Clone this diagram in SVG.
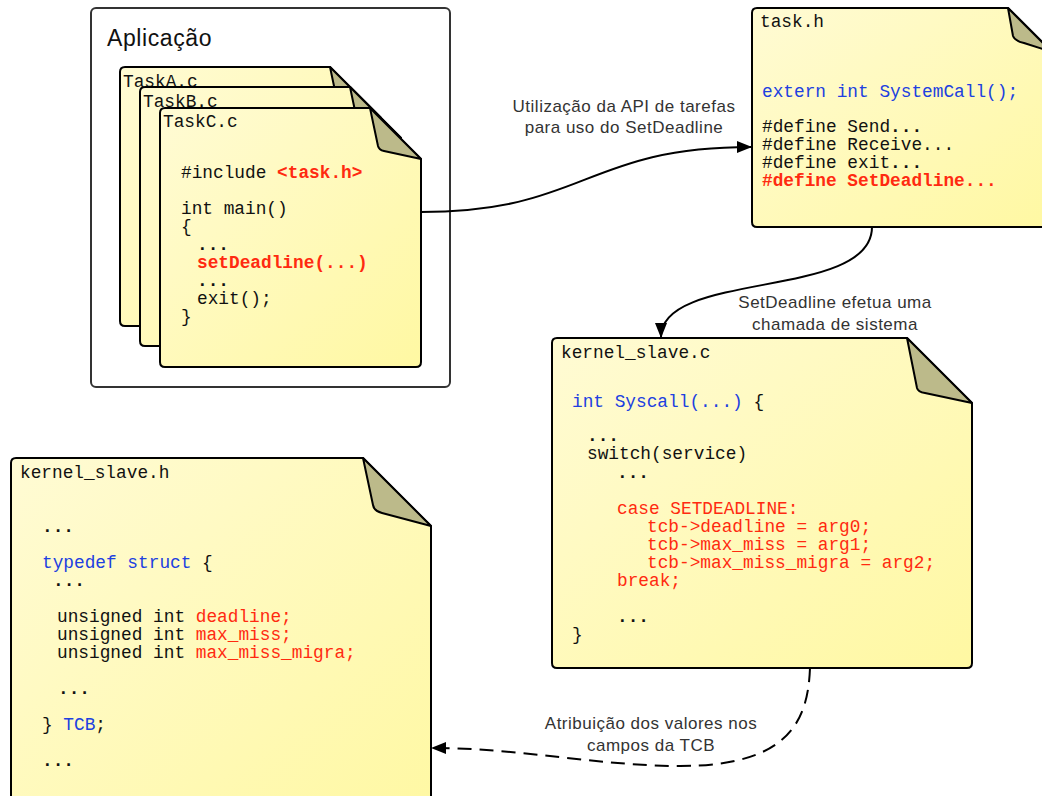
<svg xmlns="http://www.w3.org/2000/svg" width="1042" height="796" viewBox="0 0 1042 796">
  <defs>
    <linearGradient id="paper" x1="0" y1="0" x2="1" y2="1">
      <stop offset="0" stop-color="#fffbd4"/>
      <stop offset="1" stop-color="#fff8a2"/>
    </linearGradient>
    <marker id="arrow" markerUnits="userSpaceOnUse" markerWidth="16" markerHeight="12" viewBox="0 0 16 12" refX="14" refY="6" orient="auto">
      <path d="M0,0 L15,6 L0,12 Z" fill="#000"/>
    </marker>
    <style>
      .page { fill: url(#paper); stroke: #000; stroke-width: 2; stroke-linejoin: round; }
      .fold { fill: #bcba8a; stroke: #000; stroke-width: 2; stroke-linejoin: round; }
      .code { font-family: "Liberation Mono", "DejaVu Sans Mono", monospace; font-size: 17.8px; fill: #111; white-space: pre; }
      .kw { fill: #2040e0; }
      .hl { fill: #ff2a10; }
      .b { font-weight: bold; }
      .label { font-family: "Liberation Sans", Arial, sans-serif; font-size: 17px; letter-spacing: 0.5px; fill: #333; text-anchor: middle; }
      .edge { fill: none; stroke: #000; stroke-width: 2; }
      .dashed { stroke-dasharray: 14 8; }
    </style>
  </defs>

  <rect width="1042" height="796" fill="#fff"/>

  <!-- application container -->
  <g id="aplicacao">
    <rect x="91" y="8" width="359" height="379" rx="5" fill="#fff" stroke="#333" stroke-width="2"/>
    <text x="107" y="46" font-family="Liberation Sans, Arial, sans-serif" font-size="23" letter-spacing="0.6" fill="#111">Aplicação</text>
  </g>

  <!-- TaskA.c -->
  <g id="taskA">
    <path class="page" d="M125,67 H330 L381,118 V321 Q381,326 376,326 H125 Q120,326 120,321 V72 Q120,67 125,67 Z"/>
    <path class="fold" d="M330,67 L338,105 Q339,109 344,110 L381,118 Z"/>
    <text class="code" x="123" y="87">TaskA.c</text>
  </g>

  <!-- TaskB.c -->
  <g id="taskB">
    <path class="page" d="M145,87 H350 L401,138 V341 Q401,346 396,346 H145 Q140,346 140,341 V92 Q140,87 145,87 Z"/>
    <path class="fold" d="M350,87 L358,125 Q359,129 364,130 L401,138 Z"/>
    <text class="code" x="143" y="107">TaskB.c</text>
  </g>

  <!-- TaskC.c -->
  <g id="taskC">
    <path class="page" d="M165,108 H370 L421,159 V362 Q421,367 416,367 H165 Q160,367 160,362 V113 Q160,108 165,108 Z"/>
    <path class="fold" d="M370,108 L378,146 Q379,150 384,151 L421,159 Z"/>
    <text class="code" x="163" y="127">TaskC.c</text>
    <text class="code" x="181" y="178">#include <tspan class="hl b">&lt;task.h&gt;</tspan></text>
    <text class="code" x="181" y="214">int main()</text>
    <text class="code" x="181" y="232">{</text>
    <text class="code b" x="197" y="250">...</text>
    <text class="code hl b" x="197" y="268">setDeadline(...)</text>
    <text class="code b" x="197" y="286">...</text>
    <text class="code" x="197" y="304">exit();</text>
    <text class="code" x="181" y="322">}</text>
  </g>

  <!-- task.h -->
  <g id="task_h">
    <path class="page" d="M757,8 H1008 L1052,52 V222 Q1052,227 1047,227 H757 Q752,227 752,222 V13 Q752,8 757,8 Z"/>
    <path class="fold" d="M1008,8 L1013,36 Q1015,41 1024,43 L1052,52 Z"/>
    <text class="code" x="760" y="27">task.h</text>
    <text class="code kw" x="762" y="97">extern int SystemCall();</text>
    <text class="code" x="762" y="132">#define Send<tspan class="b">...</tspan></text>
    <text class="code" x="762" y="150">#define Receive...</text>
    <text class="code" x="762" y="168">#define exit<tspan class="b">...</tspan></text>
    <text class="code hl b" x="762" y="186">#define SetDeadline...</text>
  </g>

  <!-- kernel_slave.c -->
  <g id="kernel_slave_c">
    <path class="page" d="M557,338 H907 L972,403 V663 Q972,668 967,668 H557 Q552,668 552,663 V343 Q552,338 557,338 Z"/>
    <path class="fold" d="M907,338 L917,388 Q918,392 925,393 L972,403 Z"/>
    <text class="code" x="561" y="358">kernel_slave.c</text>
    <text class="code" x="572" y="407"><tspan class="kw">int Syscall(...)</tspan> {</text>
    <text class="code b" x="587" y="441">...</text>
    <text class="code" x="587" y="459">switch(service)</text>
    <text class="code b" x="617" y="478">...</text>
    <text class="code hl" x="617" y="514">case SETDEADLINE:</text>
    <text class="code hl" x="647" y="532">tcb-&gt;deadline = arg0;</text>
    <text class="code hl" x="647" y="550">tcb-&gt;max_miss = arg1;</text>
    <text class="code hl" x="647" y="568">tcb-&gt;max_miss_migra = arg2;</text>
    <text class="code hl" x="617" y="586">break;</text>
    <text class="code b" x="617" y="622">...</text>
    <text class="code" x="572" y="640">}</text>
  </g>

  <!-- kernel_slave.h -->
  <g id="kernel_slave_h">
    <path class="page" d="M16,458 H363 L431,526 V830 H11 V463 Q11,458 16,458 Z"/>
    <path class="fold" d="M363,458 L373,505 Q374,511 382,513 L431,526 Z"/>
    <text class="code" x="20" y="478">kernel_slave.h</text>
    <text class="code b" x="42" y="532">...</text>
    <text class="code" x="42" y="568"><tspan class="kw">typedef struct</tspan> {</text>
    <text class="code b" x="53" y="586">...</text>
    <text class="code" x="57" y="622">unsigned int <tspan class="hl">deadline;</tspan></text>
    <text class="code" x="57" y="640">unsigned int <tspan class="hl">max_miss;</tspan></text>
    <text class="code" x="57" y="658">unsigned int <tspan class="hl">max_miss_migra;</tspan></text>
    <text class="code b" x="58" y="694">...</text>
    <text class="code" x="42" y="730">} <tspan class="kw">TCB</tspan>;</text>
    <text class="code b" x="42" y="766">...</text>
  </g>

  <!-- connectors -->
  <g id="connectors">
    <path class="edge" d="M421,212 C585,212 585,147 751,147" marker-end="url(#arrow)"/>
    <text class="label" x="624" y="112">Utilização da API de tarefas</text>
    <text class="label" x="624" y="133">para uso do SetDeadline</text>

    <path class="edge" d="M872,227 C872,300 661,270 661,337" marker-end="url(#arrow)"/>
    <text class="label" x="835" y="308">SetDeadline efetua uma</text>
    <text class="label" x="835" y="330">chamada de sistema</text>

    <path class="edge dashed" d="M810,668 C808,720 790,766 680,766 C600,766 520,748 432,748" marker-end="url(#arrow)"/>
    <text class="label" x="651" y="729">Atribuição dos valores nos</text>
    <text class="label" x="651" y="751">campos da TCB</text>
  </g>
</svg>
